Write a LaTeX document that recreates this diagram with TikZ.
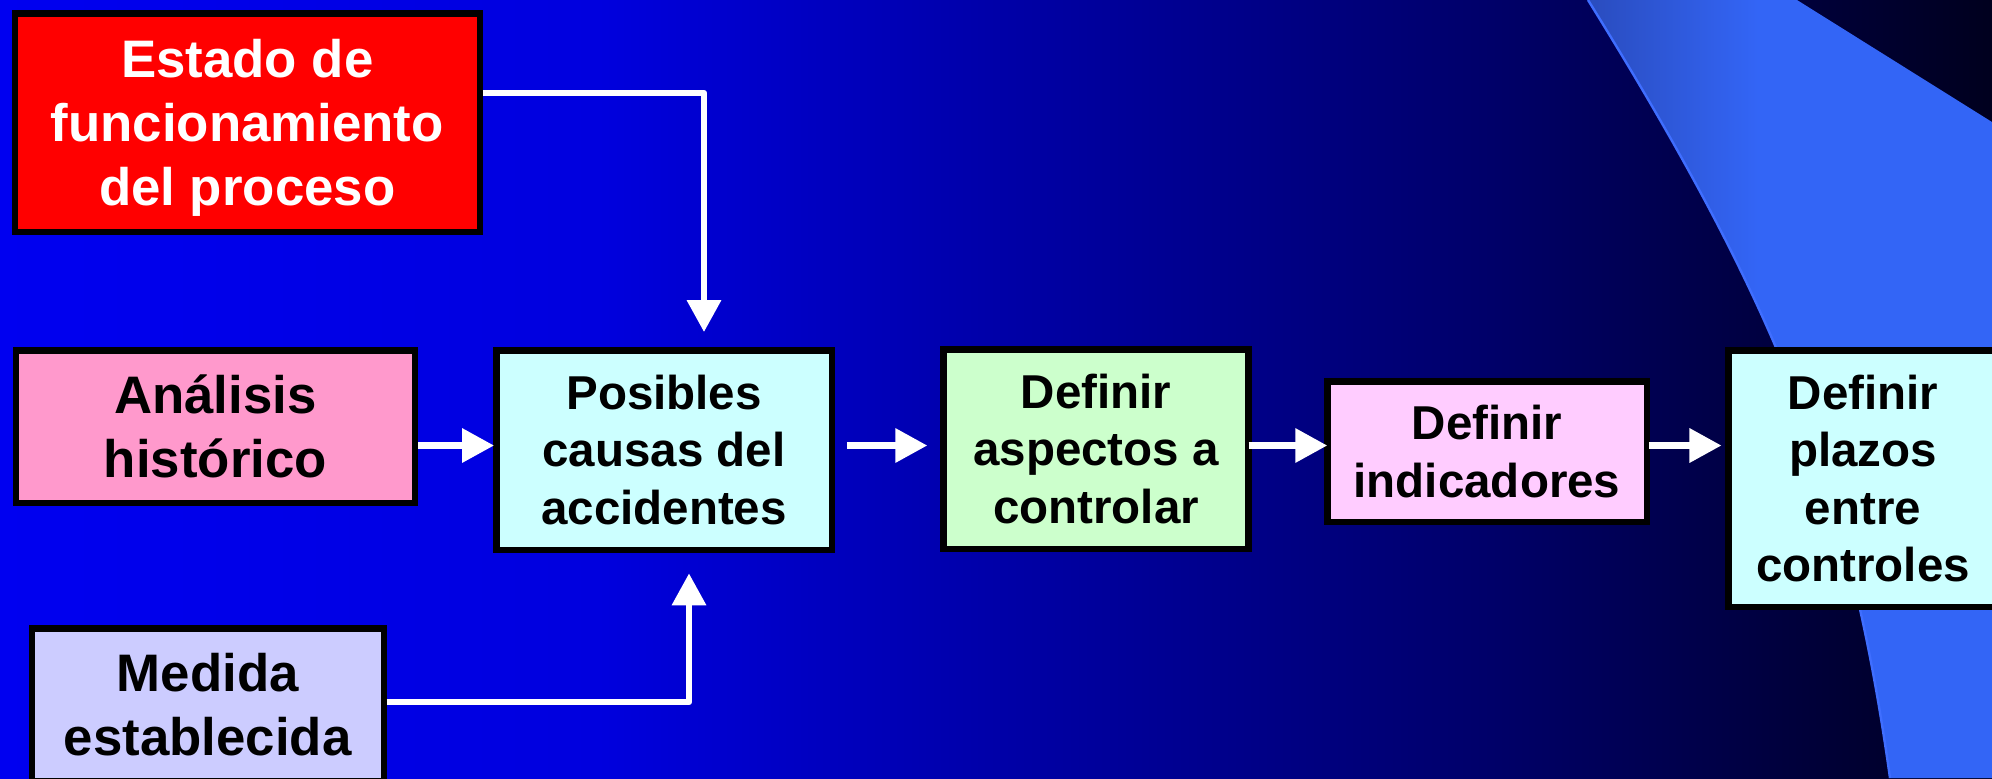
\documentclass[tikz,border=0pt]{standalone}
\usepackage{fontspec}
\setmainfont{Liberation Sans}
\usetikzlibrary{arrows.meta}
\definecolor{bgA}{HTML}{0000F0}
\definecolor{bgB}{HTML}{0000DE}
\definecolor{bgC}{HTML}{0000A8}
\definecolor{bgD}{HTML}{000068}
\definecolor{bgE}{HTML}{00001E}
\definecolor{bandA}{HTML}{2A4CBE}
\definecolor{bandB}{HTML}{3365F6}
\definecolor{bandEdge}{HTML}{3F6EFF}
\definecolor{anaC}{HTML}{FF99CC}
\definecolor{posC}{HTML}{CCFFFF}
\definecolor{aspC}{HTML}{CCFFCC}
\definecolor{indC}{HTML}{FFCCFF}
\definecolor{plaC}{HTML}{CCFFFF}
\definecolor{medC}{HTML}{CCCCFF}
\pgfdeclarehorizontalshading{bgshade}{100bp}{color(0bp)=(bgA); color(25bp)=(bgA); color(40bp)=(bgB); color(50bp)=(bgC); color(62.6bp)=(bgD); color(75bp)=(bgE); color(100bp)=(bgE)}
\pgfdeclarehorizontalshading{bandshade}{100bp}{color(0bp)=(bandA); color(25bp)=(bandA); color(46bp)=(bandB); color(100bp)=(bandB)}
\begin{document}
\begin{tikzpicture}[x=0.5pt,y=-0.5pt,
  box/.style={draw=black, line width=3.25pt, inner sep=0pt, outer sep=0pt, align=center, text=black,
    font=\fontsize{23.75pt}{28.75pt}\selectfont\bfseries},
  bigbox/.style={box, font=\fontsize{26.4pt}{32pt}\selectfont\bfseries},
  arr/.style={draw=white, line width=3.3pt, line join=round, -{Triangle[length=16pt,width=16.5pt]}}]
\useasboundingbox (0,0) rectangle (1992,778);
\shade[shading=bgshade] (0,0) rectangle (1992,778);
\shade[shading=bandshade] (1588,0) .. controls (1774,300) and (1848,478) .. (1890,778) -- (1992,778) -- (1992,122) -- (1797,0) -- cycle;
\draw[bandEdge, line width=1.2pt] (1588,0) .. controls (1774,300) and (1848,478) .. (1890,778);

\node[bigbox, fill=red, text=white,
  minimum width=232.5pt, minimum height=109.25pt] (red) at (247.25,122.5) {Estado de\\funcionamiento\\del \smash{p}roceso};
\node[bigbox, fill=anaC, minimum width=199.4pt, minimum height=76.25pt] (ana) at (215.4,426.5) {An\smash{á}lisis\\histórico};
\node[box, fill=posC, minimum width=167.75pt, minimum height=99.75pt] (pos) at (664,450) {Posibles\\causas del\\accidentes};
\node[box, fill=aspC, minimum width=152.5pt, minimum height=99.75pt] (asp) at (1096,449) {Definir\\aspectos a\\controlar};
\node[box, fill=indC, minimum width=159.75pt, minimum height=70.25pt] (ind) at (1487,451.5) {Definir\\indicadores};
\node[box, fill=plaC, minimum width=134.75pt, minimum height=128.25pt] (pla) at (1863,478.5) {Definir\\plazos\\entre\\controles};
\node[bigbox, fill=medC, minimum width=176pt, minimum height=76.25pt] (med) at (207.75,704.5) {Medida\\establecida};

\coordinate (row) at (0,445.5);
\draw[arr, shorten <=1.6pt] ([yshift=14.75pt]red.east) -| ([xshift=20pt,yshift=9.1pt]pos.north);
\draw[arr, shorten <=1.6pt, shorten >=1.1pt] (ana.east |- row) -- (pos.west |- row);
\draw[arr, shorten <=1.6pt] ([yshift=1.25pt]med.east) -| ([xshift=12.5pt,yshift=-11.8pt]pos.south);
\draw[arr, shorten <=7.6pt, shorten >=8.1pt] (pos.east |- row) -- (asp.west |- row);
\draw[arr] (asp.east |- row) -- (ind.west |- row);
\draw[arr, shorten <=1pt, shorten >=3.4pt] (ind.east |- row) -- (pla.west |- row);
\end{tikzpicture}
\end{document}
